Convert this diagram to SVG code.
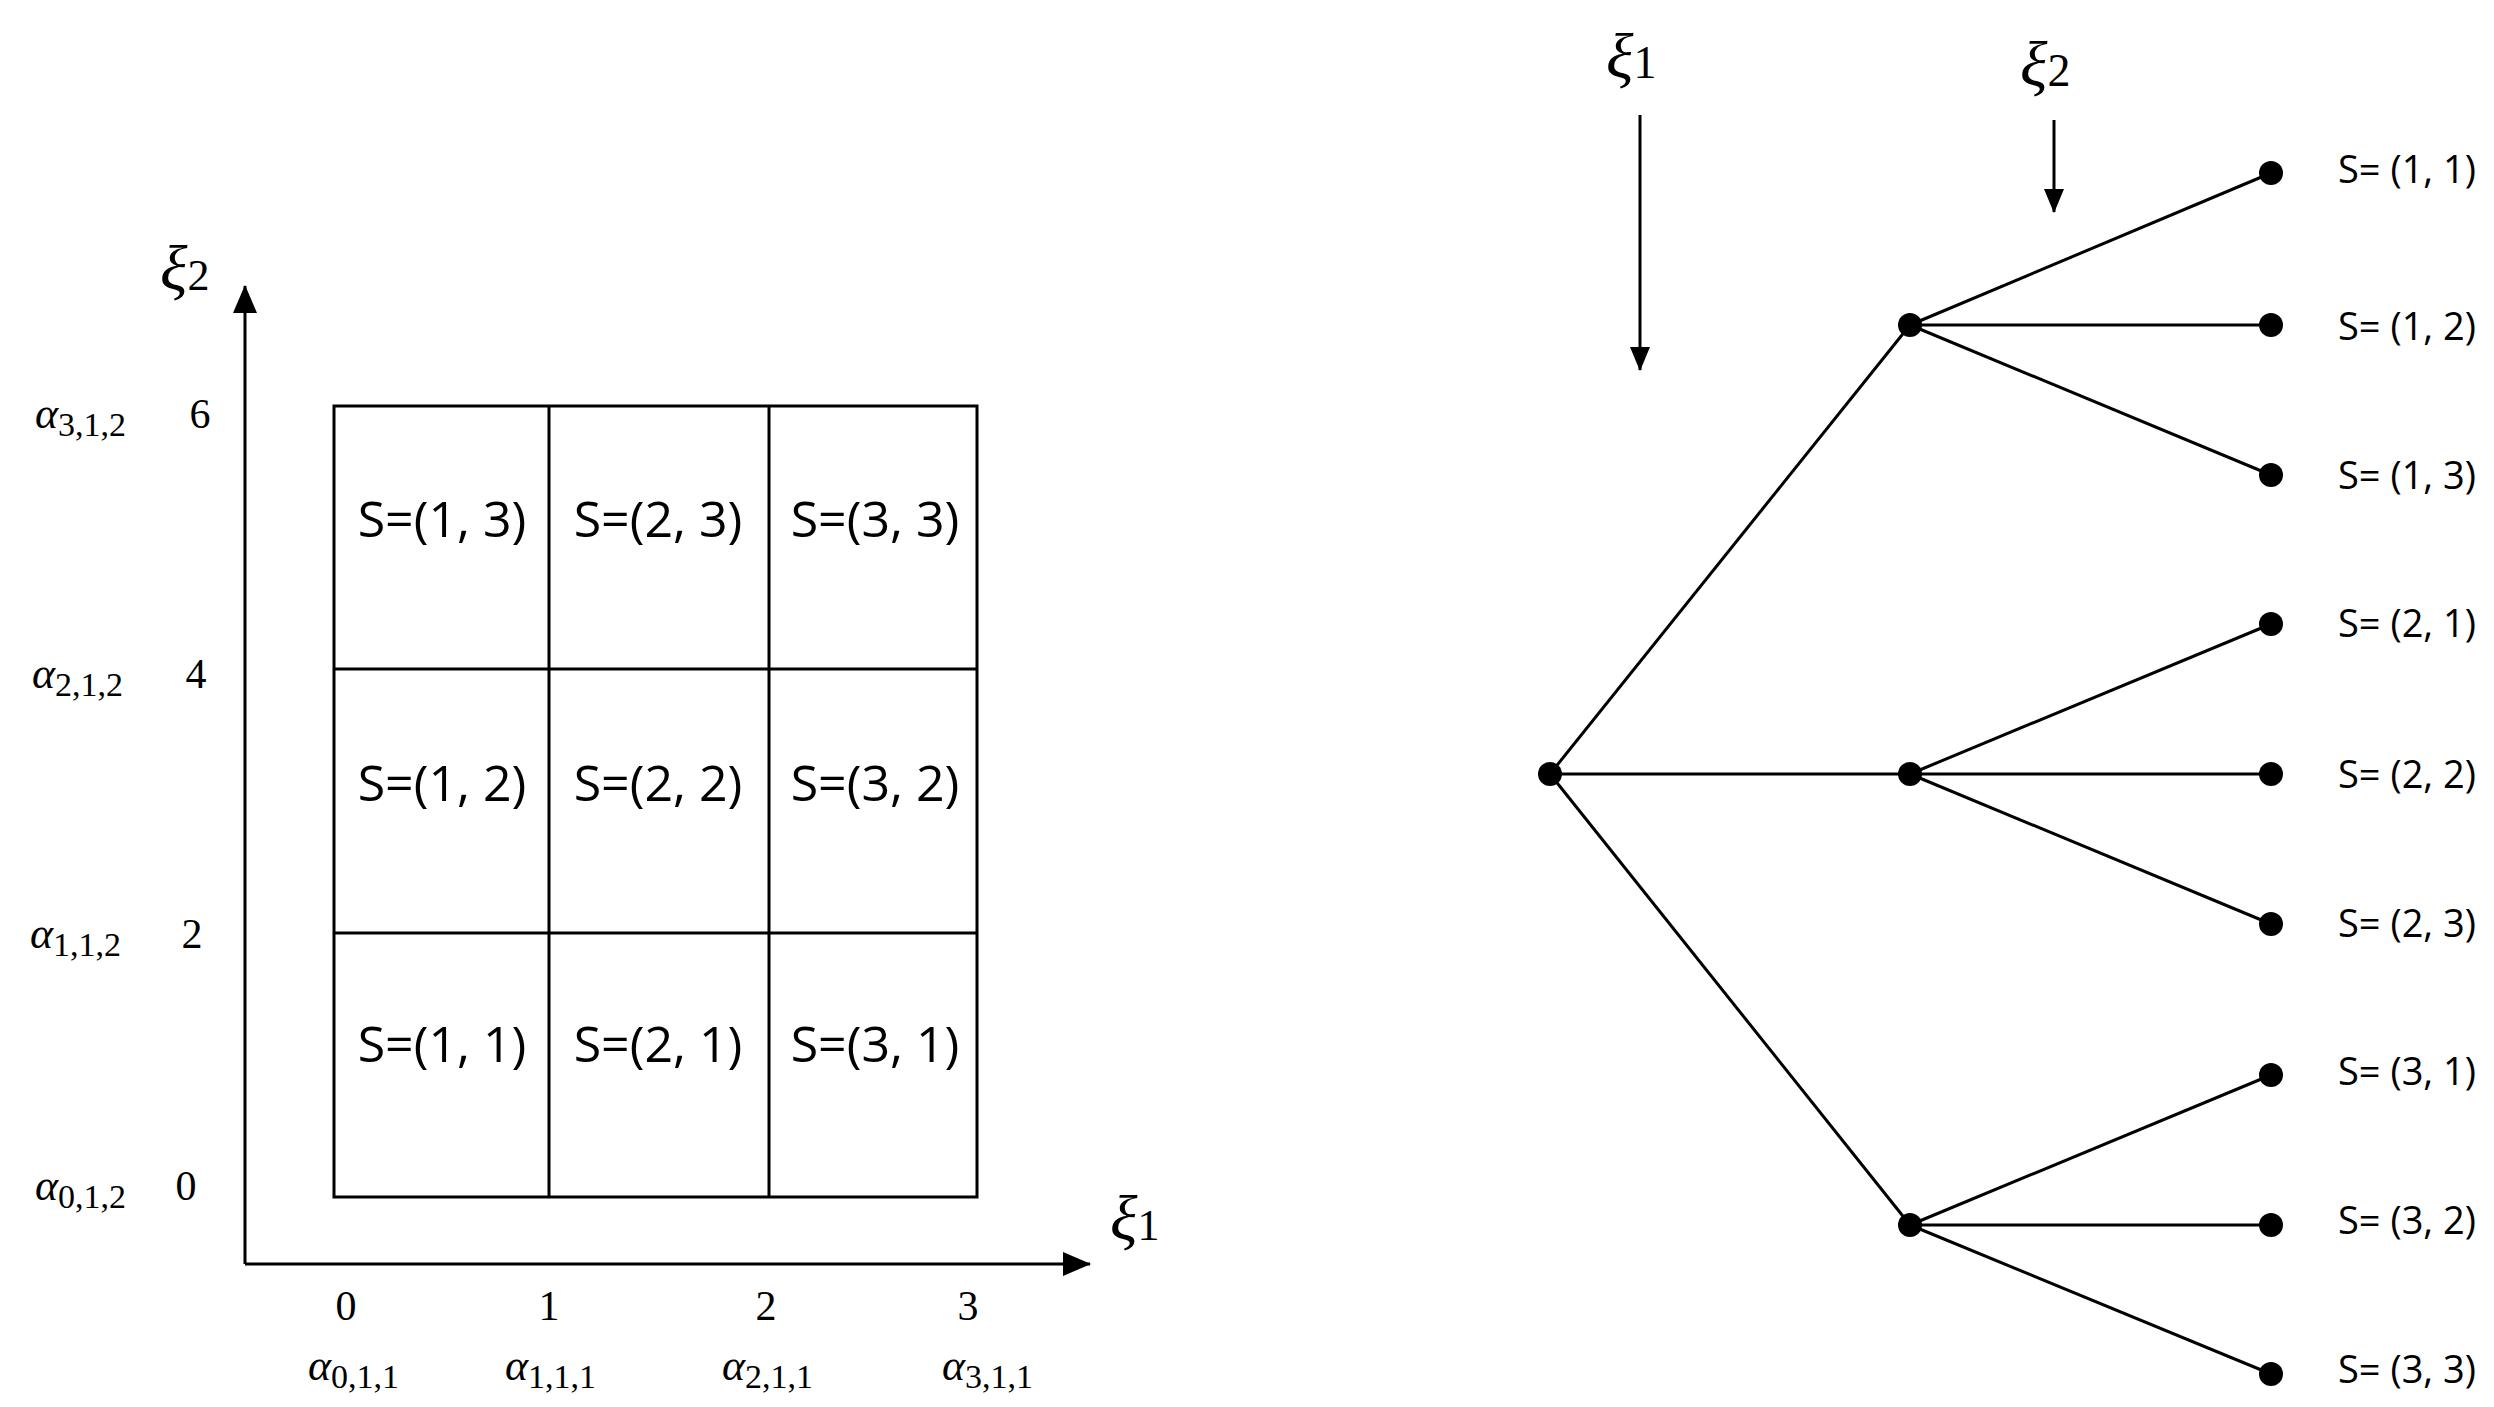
<svg xmlns="http://www.w3.org/2000/svg" width="2494" height="1407" viewBox="0 0 2494 1407">
<defs>
<marker id="ah" markerWidth="24" markerHeight="24" refX="23" refY="12" orient="auto" markerUnits="userSpaceOnUse" viewBox="0 0 24 24"><path d="M0,2 L24,12 L0,22 z" fill="#000"/></marker>
<marker id="ab" markerWidth="28" markerHeight="28" refX="27" refY="14" orient="auto" markerUnits="userSpaceOnUse" viewBox="0 0 28 28"><path d="M0,2 L28,14 L0,26 z" fill="#000"/></marker>
<style>
.ln{stroke:#000;stroke-width:3;fill:none}
.cell{font-family:"Open Sans","Liberation Sans",sans-serif;font-size:50px;text-anchor:middle}
.num{font-family:"Liberation Serif",serif;font-size:42px;text-anchor:middle}
.al{font-family:"Liberation Serif",serif;font-size:44px;font-style:italic}
.sub{font-size:34px;font-style:normal}
.xi{font-family:"Liberation Serif",serif;font-size:64px;font-style:italic}
.lf{font-family:"Open Sans","Liberation Sans",sans-serif;font-size:38px}
</style>
</defs>
<rect width="2494" height="1407" fill="#fff"/>
<g id="axes">
<line class="ln" x1="245" y1="1264" x2="245" y2="286" marker-end="url(#ab)"/>
<line class="ln" x1="245" y1="1264" x2="1090" y2="1264" marker-end="url(#ab)"/>
<text class="xi" x="160" y="290">ξ<tspan font-size="44" font-style="normal">2</tspan></text>
<text class="xi" x="1110" y="1240">ξ<tspan font-size="44" font-style="normal">1</tspan></text>
<text class="num" x="200" y="428">6</text><text class="num" x="196" y="688">4</text><text class="num" x="192" y="948">2</text><text class="num" x="186" y="1200">0</text>
<text class="al" x="35" y="428">α<tspan class="sub" dy="8">3,1,2</tspan></text>
<text class="al" x="32" y="688">α<tspan class="sub" dy="8">2,1,2</tspan></text>
<text class="al" x="30" y="948">α<tspan class="sub" dy="8">1,1,2</tspan></text>
<text class="al" x="35" y="1200">α<tspan class="sub" dy="8">0,1,2</tspan></text>
<text class="num" x="346" y="1320">0</text><text class="num" x="549" y="1320">1</text><text class="num" x="766" y="1320">2</text><text class="num" x="968" y="1320">3</text>
<text class="al" x="308" y="1380">α<tspan class="sub" dy="8">0,1,1</tspan></text>
<text class="al" x="505" y="1380">α<tspan class="sub" dy="8">1,1,1</tspan></text>
<text class="al" x="722" y="1380">α<tspan class="sub" dy="8">2,1,1</tspan></text>
<text class="al" x="942" y="1380">α<tspan class="sub" dy="8">3,1,1</tspan></text>
</g>
<g id="grid">
<rect class="ln" x="334" y="406" width="643" height="791"/>
<line class="ln" x1="549" y1="406" x2="549" y2="1197"/><line class="ln" x1="769" y1="406" x2="769" y2="1197"/>
<line class="ln" x1="334" y1="669" x2="977" y2="669"/><line class="ln" x1="334" y1="933" x2="977" y2="933"/>
<text class="cell" x="442" y="537">S=(1, 3)</text><text class="cell" x="658" y="537">S=(2, 3)</text><text class="cell" x="875" y="537">S=(3, 3)</text>
<text class="cell" x="442" y="801">S=(1, 2)</text><text class="cell" x="658" y="801">S=(2, 2)</text><text class="cell" x="875" y="801">S=(3, 2)</text>
<text class="cell" x="442" y="1062">S=(1, 1)</text><text class="cell" x="658" y="1062">S=(2, 1)</text><text class="cell" x="875" y="1062">S=(3, 1)</text>
</g>
<g id="connectors">
<line class="ln" x1="1550" y1="774" x2="1910" y2="325"/><line class="ln" x1="1550" y1="774" x2="1910" y2="774"/><line class="ln" x1="1550" y1="774" x2="1910" y2="1225"/>
<line class="ln" x1="1910" y1="325" x2="2271" y2="173"/><line class="ln" x1="1910" y1="325" x2="2271" y2="325"/><line class="ln" x1="1910" y1="325" x2="2271" y2="475"/>
<line class="ln" x1="1910" y1="774" x2="2271" y2="624"/><line class="ln" x1="1910" y1="774" x2="2271" y2="774"/><line class="ln" x1="1910" y1="774" x2="2271" y2="924"/>
<line class="ln" x1="1910" y1="1225" x2="2271" y2="1075"/><line class="ln" x1="1910" y1="1225" x2="2271" y2="1225"/><line class="ln" x1="1910" y1="1225" x2="2271" y2="1374"/>
<line class="ln" x1="1640" y1="115" x2="1640" y2="370" marker-end="url(#ah)"/>
<line class="ln" x1="2054" y1="120" x2="2054" y2="212" marker-end="url(#ah)"/>
</g>
<g id="tree" fill="#000">
<text class="xi" x="1606" y="78">ξ<tspan font-size="46" font-style="normal">1</tspan></text>
<text class="xi" x="2020" y="86">ξ<tspan font-size="46" font-style="normal">2</tspan></text>
<circle cx="1550" cy="774" r="12"/><circle cx="1910" cy="325" r="12"/><circle cx="1910" cy="774" r="12"/><circle cx="1910" cy="1225" r="12"/>
<circle cx="2271" cy="173" r="12"/><circle cx="2271" cy="325" r="12"/><circle cx="2271" cy="475" r="12"/>
<circle cx="2271" cy="624" r="12"/><circle cx="2271" cy="774" r="12"/><circle cx="2271" cy="924" r="12"/>
<circle cx="2271" cy="1075" r="12"/><circle cx="2271" cy="1225" r="12"/><circle cx="2271" cy="1374" r="12"/>
<text class="lf" x="2338" y="183">S= (1, 1)</text><text class="lf" x="2338" y="340">S= (1, 2)</text><text class="lf" x="2338" y="489">S= (1, 3)</text>
<text class="lf" x="2338" y="637">S= (2, 1)</text><text class="lf" x="2338" y="788">S= (2, 2)</text><text class="lf" x="2338" y="937">S= (2, 3)</text>
<text class="lf" x="2338" y="1085">S= (3, 1)</text><text class="lf" x="2338" y="1234">S= (3, 2)</text><text class="lf" x="2338" y="1383">S= (3, 3)</text>
</g>
</svg>
